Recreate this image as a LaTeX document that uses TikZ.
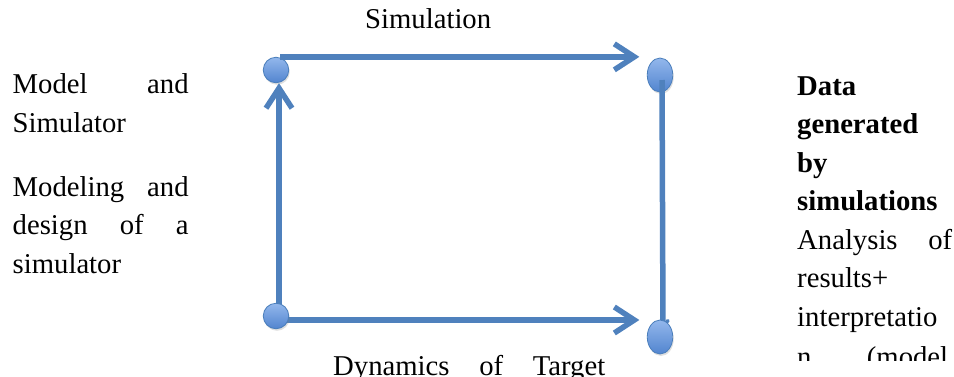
\documentclass[tikz,border=0pt]{standalone}
\usepackage{fontspec}
\setmainfont{Liberation Serif}
\usetikzlibrary{arrows.meta,shadows,shapes.geometric}
\pgfdeclarelayer{front}
\pgfsetlayers{main,front}
\definecolor{lineblue}{HTML}{4F81BD}
\definecolor{edgeblue}{HTML}{4A7EBB}
\definecolor{filltop}{HTML}{93B7EC}
\definecolor{fillbot}{HTML}{5285CF}
\begin{document}
\begin{tikzpicture}[x=1pt,y=-1pt,
  joint/.style={circle, minimum size=25.5pt, inner sep=0pt, draw=edgeblue, line width=0.8pt,
    top color=filltop, bottom color=fillbot,
    drop shadow={opacity=0.25,shadow xshift=1pt,shadow yshift=-2pt}},
  ovalnode/.style={joint, ellipse, minimum width=25.5pt, minimum height=34pt},
  flow/.style={draw=lineblue, line width=5.5pt, -{Straight Barb[length=20pt,width=26pt]}},
  txt/.style={font=\fontsize{28.7}{38.5}\selectfont, inner sep=0pt, anchor=base west}]
\useasboundingbox (0,0) rectangle (954,376);
\clip (0,0) rectangle (954,376);
% nodes
\node[joint] (tl) at (276,70) {};
\node[ovalnode] (tr) at (660,75) {};
\begin{pgfonlayer}{front}
\node[joint] (bl) at (276,316) {};
\node[ovalnode] (br) at (660,337) {};
\end{pgfonlayer}
% connectors
\draw[flow, shorten >=7.5pt] ([xshift=4pt]tl.north) -- (tl.north -| tr.west);
\draw[flow] ([xshift=3pt]bl.center) -- ([xshift=3pt]tl.south);
\draw[flow, shorten >=7.5pt] ([xshift=4pt,yshift=-4pt]bl.center) -- ([yshift=-4pt]bl.center -| br.west);
\coordinate (hookend) at ([xshift=3pt,yshift=-7pt]br.north);
\draw[draw=lineblue, line width=5.5pt] ([xshift=2pt,yshift=-5pt]tr.center) -- (hookend);
\draw[draw=lineblue, line width=3.5pt, line cap=round] (hookend) -- ++(5,-6);
% texts
\node[txt] (sim) at (365,28) {Simulation};
\node[txt] (dyn) at (333,375) {\makebox[272pt][s]{Dynamics of Target}};
\node[txt] (l1) at (12.5,93) {\makebox[176pt][s]{Model and}};
\node[txt] (l2) at (12.5,132) {Simulator};
\node[txt] (l3) at (12.5,196) {\makebox[176pt][s]{Modeling and}};
\node[txt] (l4) at (12.5,234.5) {\makebox[176pt][s]{design of a}};
\node[txt] (l5) at (12.5,273) {simulator};
\node[txt, font=\fontsize{28.7}{38.5}\selectfont\bfseries] (r1) at (797,95) {Data};
\node[txt, font=\fontsize{28.7}{38.5}\selectfont\bfseries] (r2) at (797,133.5) {generated};
\node[txt, font=\fontsize{28.7}{38.5}\selectfont\bfseries] (r3) at (797,172) {by};
\node[txt, font=\fontsize{28.7}{38.5}\selectfont\bfseries] (r4) at (797,210.5) {simulations};
\node[txt] (r5) at (797,249) {\makebox[155pt][s]{Analysis of}};
\node[txt] (r6) at (797,287.5) {results+};
\node[txt] (r7) at (797,326) {interpretatio};
\begin{scope}
\clip (780,330) rectangle (954,360);
\node[txt] (r8) at (797,366) {\makebox[151pt][s]{n (model}};
\end{scope}
\end{tikzpicture}
\end{document}
